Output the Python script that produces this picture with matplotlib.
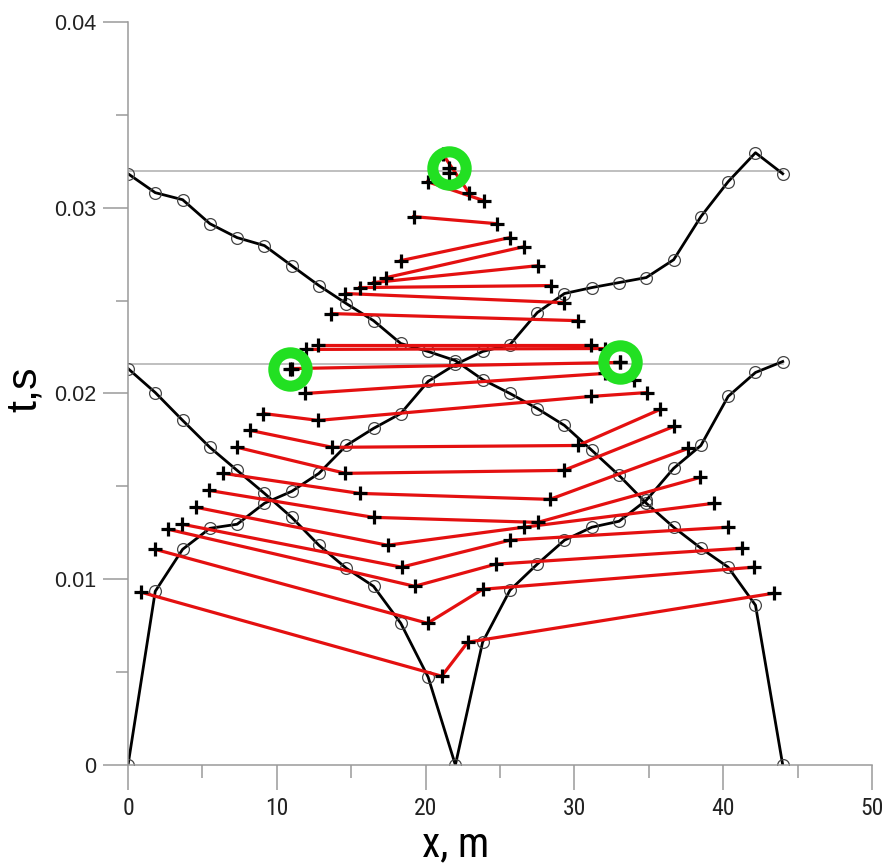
import matplotlib
matplotlib.use("Agg")
import matplotlib.pyplot as plt
from matplotlib.ticker import MultipleLocator

# receiver positions, m
x_rec = [0, 1.83, 3.67, 5.5, 7.33, 9.17, 11, 12.83, 14.67, 16.5, 18.33, 20.17,
         22, 23.83, 25.67, 27.5, 29.33, 31.17, 33, 34.83, 36.67, 38.5, 40.33, 42.17, 44]

# travel times, s
t_forward = [0, 0.00935, 0.01161, 0.01274, 0.01296, 0.01409, 0.01473, 0.01570, 0.01720,
             0.01812, 0.01892, 0.02065, 0.02156, 0.02226, 0.02263, 0.02435, 0.02538,
             0.02570, 0.02597, 0.02624, 0.02720, 0.02952, 0.03140, 0.03296, 0.03183]
t_reverse = [0.03183, 0.03081, 0.03043, 0.02914, 0.02839, 0.02796, 0.02688, 0.02581,
             0.02484, 0.02392, 0.02269, 0.02226, 0.02177, 0.02075, 0.02000, 0.01919,
             0.01828, 0.01694, 0.01559, 0.01409, 0.01280, 0.01167, 0.01065, 0.00860, 0]
t_middle = [0.02134, 0.02005, 0.01855, 0.01710, 0.01586, 0.01462, 0.01333, 0.01183,
            0.01059, 0.00962, 0.00763, 0.00473, 0, 0.00661, 0.00941, 0.01081, 0.01210,
            0.01280, 0.01312, 0.01425, 0.01597, 0.01720, 0.01984, 0.02113, 0.02172]

# red connecting lines (vertices marked with +)
link_x = [
    [0.875, 21.08, 22.83, 43.43],
    [1.82, 20.13, 23.84, 42.09],
    [2.69, 19.26, 24.71, 41.28],
    [3.64, 18.38, 25.66, 40.34],
    [4.58, 17.44, 26.60, 39.39],
    [5.45, 16.50, 27.54, 38.45],
    [6.40, 15.56, 28.35, 37.64],
    [7.34, 14.61, 29.29, 36.70],
    [8.22, 13.74, 30.24, 35.76],
    [9.09, 12.79, 31.11, 34.88],
    [11.92, 32.05, 34.01],
    [11.04, 33.06],
    [11.99, 32.05],
    [12.79, 31.11],
    [13.67, 30.24],
    [14.61, 29.29],
    [15.56, 28.42],
    [16.50, 27.54],
    [17.37, 26.60],
    [18.32, 25.66],
    [19.19, 24.78],
    [20.13, 23.91],
    [21.14, 22.90],
]
link_t = [
    [0.00930, 0.00478, 0.00661, 0.00925],
    [0.01161, 0.00763, 0.00946, 0.01065],
    [0.01269, 0.00962, 0.01081, 0.01167],
    [0.01296, 0.01065, 0.01210, 0.01280],
    [0.01387, 0.01183, 0.01280, 0.01409],
    [0.01478, 0.01333, 0.01306, 0.01548],
    [0.01570, 0.01462, 0.01430, 0.01704],
    [0.01710, 0.01570, 0.01586, 0.01823],
    [0.01801, 0.01710, 0.01720, 0.01914],
    [0.01892, 0.01855, 0.01984, 0.02005],
    [0.02000, 0.02108, 0.02070],
    [0.02134, 0.02167],
    [0.02237, 0.02242],
    [0.02263, 0.02263],
    [0.02430, 0.02392],
    [0.02538, 0.02489],
    [0.02570, 0.02581],
    [0.02597, 0.02688],
    [0.02624, 0.02790],
    [0.02715, 0.02839],
    [0.02952, 0.02914],
    [0.03140, 0.03038],
    [0.03290, 0.03081],
]
apex_x, apex_t = [21.55], [0.03188]

# highlighted points and reference levels
ring_x = [10.91, 33.06, 21.55]
ring_t = [0.02134, 0.02167, 0.03215]
ref_t = [0.0320, 0.0216]

narrow = ["Roboto Condensed", "Liberation Sans"]

fig = plt.figure(figsize=(8.86, 8.68), dpi=100)
ax = fig.add_axes([0.1445, 0.1187, 0.8397, 0.856])

for tt in ref_t:
    ax.plot([0, 44], [tt, tt], color="#b4b4b4", lw=1.2, zorder=1)

for tt in (t_forward, t_reverse, t_middle):
    ax.plot(x_rec, tt, color="black", lw=2.0, marker="o", ms=8.5,
            mfc="none", mec="#444444", mew=0.9, zorder=2)

for xs, ts in zip(link_x, link_t):
    ax.plot(xs, ts, color="#e41010", lw=2.3, zorder=3)
    ax.plot(xs, ts, ls="none", marker="+", ms=10, mew=2.3, color="black", zorder=4)
ax.plot(apex_x, apex_t, ls="none", marker="+", ms=10, mew=2.3, color="black", zorder=4)

ax.plot(ring_x, ring_t, ls="none", marker="o", ms=24, mfc="none",
        mec="#22e022", mew=8, zorder=5)
ax.plot(ring_x, ring_t, ls="none", marker="+", ms=10, mew=2.3, color="black", zorder=6)

ax.set_xlim(0, 50)
ax.set_ylim(0, 0.04)
ax.xaxis.set_minor_locator(MultipleLocator(5))
ax.yaxis.set_minor_locator(MultipleLocator(0.005))
ax.set_xticks([0, 10, 20, 30, 40, 50], ["0", "10", "20", "30", "40", "50"])
ax.set_yticks([0, 0.01, 0.02, 0.03, 0.04], ["0", "0.01", "0.02", "0.03", "0.04"])

for s in ("top", "right"):
    ax.spines[s].set_visible(False)
for s in ("left", "bottom"):
    ax.spines[s].set_color("#9a9a9a")
    ax.spines[s].set_linewidth(1.1)

ax.tick_params(which="major", length=18, width=1.1, color="#9a9a9a", direction="out")
ax.tick_params(which="minor", length=9, width=1.1, color="#9a9a9a", direction="out")
ax.tick_params(axis="y", pad=5, labelsize=15.5, labelcolor="#222222")
ax.tick_params(axis="x", pad=5, labelsize=17, labelcolor="#222222")
for lab in ax.get_xticklabels():
    lab.set_family(narrow)
for lab in ax.get_yticklabels():
    lab.set_family(["Liberation Sans", "DejaVu Sans"])

ax.set_xlabel("x, m", fontsize=30, family=narrow)
ax.xaxis.set_label_coords(0.44, -0.08)
ax.set_ylabel("t,s", fontsize=31, family=["Liberation Sans", "DejaVu Sans"])
ax.yaxis.set_label_coords(-0.112, 0.505)

fig.savefig("out.png", dpi=100)
